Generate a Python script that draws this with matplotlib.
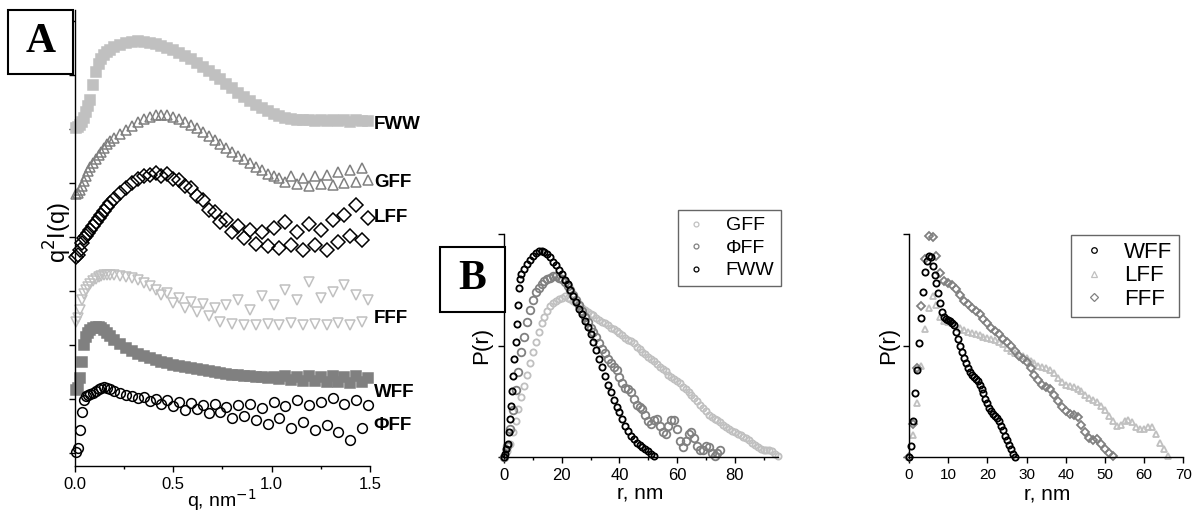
import matplotlib
matplotlib.use('Agg')
import matplotlib.pyplot as plt
from matplotlib.patches import Rectangle
from matplotlib.lines import Line2D

plt.rcParams['font.family'] = ['Liberation Sans', 'DejaVu Sans']

LIGHT = '#c0c0c0'
MID = '#808080'
DARK = 'black'

# ---- panel A: q^2 I(q), curves shifted vertically (arbitrary units)
q_a = [0.005, 0.015, 0.025, 0.035, 0.045, 0.055, 0.065, 0.075, 0.09, 0.105,
       0.12, 0.135, 0.15, 0.165, 0.18, 0.20, 0.23, 0.26, 0.29, 0.32, 0.35,
       0.38, 0.41, 0.44, 0.47, 0.50, 0.53, 0.56, 0.59, 0.62, 0.65, 0.68,
       0.71, 0.74, 0.77, 0.80, 0.83, 0.86, 0.89, 0.92, 0.95, 0.98, 1.01,
       1.04, 1.07, 1.10, 1.13, 1.16, 1.19, 1.22, 1.25, 1.28, 1.31, 1.34,
       1.37, 1.40, 1.43, 1.46, 1.49]
fww_a = [325, 326, 328, 331, 335, 341, 347, 353, 368, 381, 389, 394, 398, 401, 403,
         406, 408, 410, 411, 412, 411, 410, 409, 407, 405, 403, 400, 397, 394, 390,
         386, 382, 378, 374, 369, 365, 360, 356, 352, 348, 345, 342, 339, 337, 335,
         334, 333, 333, 333, 332, 333, 332, 333, 332, 333, 331, 333, 332, 332]
gff_a = [259, 260, 263, 267, 272, 277, 282, 286, 290, 294, 298, 301, 305, 309, 312,
         315, 319, 323, 327, 331, 334, 336, 338, 338, 338, 336, 334, 331, 328, 325,
         321, 317, 313, 309, 305, 301, 297, 294, 290, 286, 283, 279, 277, 275, 271,
         277, 269, 275, 267, 277, 269, 278, 268, 281, 270, 283, 271, 285, 273]
lff_a = [196, 198, 203, 210, 215, 217, 220, 223, 227, 231, 235, 238, 242, 246, 250,
         254, 260, 265, 270, 274, 277, 278, 280, 277, 279, 274, 273, 267, 265, 257,
         253, 243, 241, 231, 233, 221, 227, 215, 223, 209, 221, 207, 225, 205, 231,
         208, 221, 203, 229, 208, 223, 203, 233, 211, 238, 217, 248, 213, 235]
fff_a = [131, 135, 143, 153, 159, 163, 166, 169, 172, 174, 176, 177, 178, 178, 178,
         178, 177, 176, 175, 173, 170, 167, 163, 158, 160, 150, 155, 145, 151, 141,
         149, 137, 145, 131, 148, 129, 153, 128, 143, 128, 157, 129, 148, 128, 163,
         130, 153, 128, 171, 129, 155, 128, 161, 130, 168, 128, 158, 131, 153]
wff_a = [63, 65, 75, 91, 108, 116, 120, 123, 125, 126, 126, 125, 123, 120, 117,
         113, 109, 105, 102, 99, 97, 95, 93, 91, 90, 88, 87, 86, 85, 84,
         83, 82, 81, 80, 79, 78, 78, 77, 77, 76, 76, 75, 76, 74, 77,
         73, 76, 72, 77, 72, 76, 71, 77, 71, 76, 70, 77, 71, 75]
phiff_a = [1, 5, 23, 41, 53, 57, 58, 59, 60, 62, 64, 65, 66, 65, 64,
           62, 60, 58, 57, 55, 56, 52, 54, 49, 53, 47, 51, 43, 50, 44,
           48, 40, 49, 41, 46, 35, 48, 37, 49, 33, 45, 29, 51, 35, 47,
           25, 53, 31, 48, 23, 51, 28, 55, 21, 49, 13, 53, 25, 48]
names_a = ['FWW', 'GFF', 'LFF', 'FFF', 'WFF', 'ΦFF']
label_y_a = [328, 271, 236, 135, 61, 28]

# ---- panel B: P(r)
r_fww_b = [0, 0.4, 0.8, 1.2, 1.6, 2.0, 2.4, 2.8, 3.2, 3.6, 4.0, 4.4, 4.8, 5.2, 5.6, 6.0] + list(range(7, 53))
fww_b = [0.00, 0.03, 0.07, 0.12, 0.22, 0.34, 0.46, 0.59, 0.73, 0.88, 1.03, 1.19, 1.36, 1.52, 1.60, 1.64,
         1.69, 1.73, 1.77, 1.80, 1.83, 1.85, 1.85, 1.84, 1.82, 1.79, 1.75, 1.72, 1.68,
         1.64, 1.59, 1.55, 1.50, 1.44, 1.39, 1.33, 1.28, 1.22, 1.17, 1.10, 1.03, 0.96,
         0.88, 0.81, 0.73, 0.65, 0.58, 0.51, 0.45, 0.40, 0.34, 0.28, 0.23, 0.19, 0.16,
         0.13, 0.11, 0.09, 0.07, 0.05, 0.03, 0.01]
r_phiff_b = list(range(76))
phiff_b = [0.00, 0.10, 0.25, 0.42, 0.60, 0.76, 0.94, 1.08, 1.21, 1.32,
           1.41, 1.48, 1.52, 1.55, 1.58, 1.60, 1.61, 1.62, 1.62, 1.61,
           1.60, 1.57, 1.53, 1.50, 1.45, 1.41, 1.36, 1.31, 1.26, 1.21,
           1.16, 1.12, 1.08, 1.02, 0.97, 0.93, 0.88, 0.84, 0.81, 0.78,
           0.72, 0.66, 0.62, 0.61, 0.58, 0.52, 0.47, 0.45, 0.43, 0.38,
           0.32, 0.30, 0.33, 0.34, 0.28, 0.22, 0.21, 0.28, 0.33, 0.33,
           0.25, 0.14, 0.09, 0.14, 0.21, 0.22, 0.17, 0.10, 0.06, 0.06,
           0.10, 0.09, 0.04, 0.01, 0.04, 0.06]
r_gff_b = list(range(96))
gff_b = [0.00, 0.05, 0.12, 0.22, 0.32, 0.43, 0.54, 0.64, 0.74, 0.84,
         0.94, 1.03, 1.12, 1.20, 1.26, 1.31, 1.35, 1.38, 1.40, 1.42,
         1.43, 1.44, 1.43, 1.42, 1.40, 1.38, 1.36, 1.34, 1.32, 1.30,
         1.28, 1.27, 1.25, 1.23, 1.21, 1.20, 1.18, 1.16, 1.15, 1.13,
         1.11, 1.09, 1.07, 1.05, 1.04, 1.02, 0.99, 0.97, 0.94, 0.92,
         0.90, 0.88, 0.86, 0.83, 0.81, 0.79, 0.77, 0.74, 0.72, 0.70,
         0.68, 0.66, 0.63, 0.61, 0.58, 0.56, 0.53, 0.50, 0.47, 0.44,
         0.41, 0.38, 0.36, 0.34, 0.33, 0.31, 0.29, 0.27, 0.25, 0.23,
         0.22, 0.21, 0.20, 0.18, 0.17, 0.15, 0.13, 0.11, 0.09, 0.07,
         0.06, 0.06, 0.06, 0.05, 0.03, 0.01]

# ---- panel C: P(r)
r_wff_c = [i * 0.5 for i in range(55)]
wff_c = [0.00, 0.10, 0.32, 0.57, 0.78, 1.02, 1.25, 1.48, 1.66, 1.76,
         1.80, 1.79, 1.71, 1.63, 1.56, 1.47, 1.38, 1.30, 1.26, 1.24,
         1.23, 1.22, 1.20, 1.18, 1.12, 1.06, 1.00, 0.94, 0.89, 0.84,
         0.80, 0.76, 0.74, 0.72, 0.70, 0.68, 0.65, 0.61, 0.57, 0.52,
         0.48, 0.44, 0.41, 0.39, 0.37, 0.35, 0.32, 0.28, 0.24, 0.19,
         0.15, 0.11, 0.07, 0.03, 0.00]
r_lff_c = list(range(67))
lff_c = [0.00, 0.20, 0.48, 0.82, 1.15, 1.34, 1.44, 1.36, 1.26, 1.22,
         1.21, 1.20, 1.18, 1.16, 1.14, 1.12, 1.11, 1.10, 1.09, 1.08,
         1.07, 1.06, 1.05, 1.03, 1.01, 0.98, 0.95, 0.93, 0.92, 0.91,
         0.89, 0.86, 0.84, 0.82, 0.81, 0.80, 0.78, 0.75, 0.71, 0.67,
         0.65, 0.64, 0.63, 0.61, 0.59, 0.56, 0.53, 0.51, 0.49, 0.46,
         0.42, 0.37, 0.32, 0.28, 0.29, 0.32, 0.33, 0.31, 0.27, 0.25,
         0.25, 0.27, 0.27, 0.21, 0.13, 0.07, 0.01]
r_fff_c = list(range(53))
fff_c = [0.00, 0.30, 0.80, 1.35, 1.78, 1.98, 1.97, 1.80, 1.65, 1.58,
         1.56, 1.54, 1.51, 1.45, 1.40, 1.37, 1.34, 1.31, 1.28, 1.24,
         1.20, 1.16, 1.13, 1.10, 1.06, 1.03, 1.00, 0.95, 0.91, 0.88,
         0.85, 0.80, 0.74, 0.69, 0.65, 0.63, 0.61, 0.56, 0.50, 0.45,
         0.41, 0.39, 0.38, 0.36, 0.29, 0.22, 0.17, 0.15, 0.16, 0.12,
         0.07, 0.04, 0.01]


def style_axis(ax):
    ax.spines['top'].set_visible(False)
    ax.spines['right'].set_visible(False)
    for s in ('left', 'bottom'):
        ax.spines[s].set_linewidth(1.0)
    ax.tick_params(which='major', direction='out', length=4, width=1, pad=4)
    ax.tick_params(which='minor', direction='out', length=2.5, width=1)
    ax.set_yticklabels([])


fig = plt.figure(figsize=(12.01, 5.15), dpi=100)

# panel A
axA = fig.add_axes([0.0624, 0.0951, 0.2456, 0.8855])
# (values, marker, colour, filled)
series_a = [(fww_a, 's', LIGHT, True), (gff_a, '^', MID, False), (lff_a, 'D', DARK, False),
            (fff_a, 'v', LIGHT, False), (wff_a, 's', MID, True), (phiff_a, 'o', DARK, False)]
for vals, m, c, filled in series_a:
    axA.plot(q_a, vals, ls='none', marker=m, ms=7, mfc=c if filled else 'none',
             mec=c, mew=1.1, clip_on=False)
for name, y in zip(names_a, label_y_a):
    axA.text(1.52, y, name, fontsize=13.5, fontweight='bold', va='center', ha='left', clip_on=False)
axA.set_xlim(0, 1.5)
axA.set_ylim(-13, 443)
axA.set_xticks([0, 0.5, 1.0, 1.5])
axA.set_xticks([0.25, 0.75, 1.25], minor=True)
axA.set_yticks(range(0, 433, 54))
style_axis(axA)
axA.set_xticklabels(['0.0', '0.5', '1.0', '1.5'], fontsize=12)
fig.text(0.1848, 0.016, 'q, nm$^{-1}$', fontsize=14, ha='center', va='baseline')
fig.text(0.0479, 0.5476, 'q$^{2}$I(q)', fontsize=17, rotation=90, ha='center', va='center')

# panel B
axB = fig.add_axes([0.4197, 0.1126, 0.2281, 0.4330])
for r, vals, c, ms in [(r_gff_b, gff_b, LIGHT, 4.5), (r_phiff_b, phiff_b, MID, 5.5), (r_fww_b, fww_b, DARK, 4.5)]:
    axB.plot(r, vals, ls='none', marker='o', ms=ms, mfc='none', mec=c, mew=1.3, clip_on=False)
axB.set_xlim(0, 95)
axB.set_ylim(0, 2)
axB.set_xticks([0, 20, 40, 60, 80])
axB.set_xticks([10, 30, 50, 70, 90], minor=True)
axB.set_yticks([0, 1, 2])
style_axis(axB)
axB.tick_params(axis='x', labelsize=12)
fig.text(0.5330, 0.0427, 'r, nm', fontsize=15, ha='center', va='center')
fig.text(0.4013, 0.330, 'P(r)', fontsize=16, rotation=90, ha='center', va='center')
hb = [Line2D([], [], ls='none', marker='o', ms=3.5, mfc='none', mec=c, mew=0.9) for c in (LIGHT, MID, DARK)]
legB = fig.legend(hb, ['GFF', 'ΦFF', 'FWW'], loc='upper right', bbox_to_anchor=(0.6503, 0.5922),
                  bbox_transform=fig.transFigure, fontsize=14, frameon=True, fancybox=False,
                  edgecolor='#404040', handlelength=1.2, handletextpad=0.9, borderpad=0.35,
                  labelspacing=0.25, borderaxespad=0)
legB.get_frame().set_linewidth(1.0)

# panel C
axC = fig.add_axes([0.7569, 0.1126, 0.2284, 0.4330])
for r, vals, m, c in [(r_lff_c, lff_c, '^', LIGHT), (r_fff_c, fff_c, 'D', MID), (r_wff_c, wff_c, 'o', DARK)]:
    axC.plot(r, vals, ls='none', marker=m, ms=4.5, mfc='none', mec=c, mew=1.3, clip_on=False)
axC.set_xlim(0, 70)
axC.set_ylim(0, 2)
axC.set_xticks(range(0, 71, 10))
axC.set_yticks([0, 1, 2])
style_axis(axC)
axC.tick_params(axis='x', labelsize=11)
fig.text(0.8718, 0.0408, 'r, nm', fontsize=15, ha='center', va='center')
fig.text(0.7402, 0.330, 'P(r)', fontsize=16, rotation=90, ha='center', va='center')
hc = [Line2D([], [], ls='none', marker=m, ms=4, mfc='none', mec=c, mew=0.9)
      for m, c in (('o', DARK), ('^', LIGHT), ('D', MID))]
legC = fig.legend(hc, ['WFF', 'LFF', 'FFF'], loc='upper right', bbox_to_anchor=(0.9817, 0.5437),
                  bbox_transform=fig.transFigure, fontsize=16, frameon=True, fancybox=False,
                  edgecolor='#404040', handlelength=1.5, handletextpad=0.6, borderpad=0.3,
                  labelspacing=0.12, borderaxespad=0)
legC.get_frame().set_linewidth(1.0)

# panel letter boxes
for (x0, y0, w, h, letter) in [(0.00666, 0.8563, 0.0541, 0.1243, 'A'),
                               (0.3664, 0.3942, 0.0541, 0.1262, 'B')]:
    fig.add_artist(Rectangle((x0, y0), w, h, transform=fig.transFigure,
                             facecolor='white', edgecolor='black', lw=1.5, zorder=10))
    fig.text(x0 + w / 2, y0 + h / 2, letter, family='Liberation Serif', fontweight='bold',
             fontsize=30, ha='center', va='center', zorder=11)

fig.savefig('out.png', dpi=100)
